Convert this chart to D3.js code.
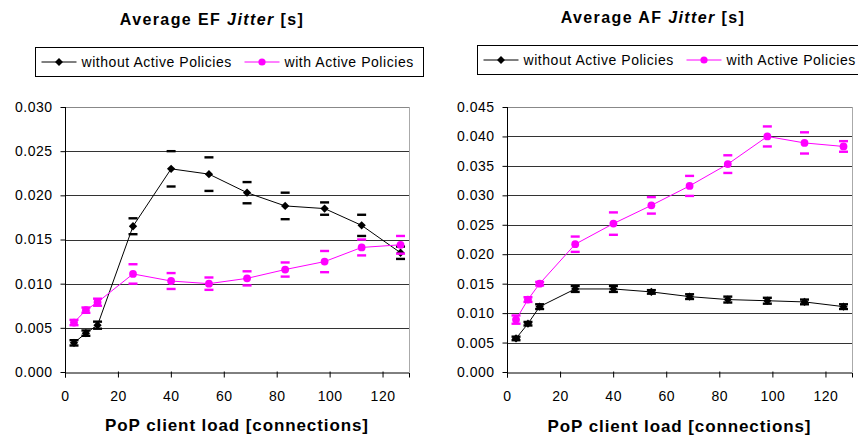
<!DOCTYPE html>
<html>
<head>
<meta charset="utf-8">
<script src="https://cdn.jsdelivr.net/npm/d3@7"></script>
<style>
  body { margin: 0; background: #fff; }
  svg { font-family: "Liberation Sans", Arial, sans-serif; }
</style>
</head>
<body>
<svg id="chart" width="858" height="437"></svg>
<script>
// PoP client load (connections) for each measurement
const loadX = [3.4, 7.9, 12.3, 25.7, 40.1, 54.4, 68.8, 83.2, 98.1, 112.1, 126.8];

// EF jitter [s]
const efWithout = [0.0033, 0.0044, 0.0053, 0.0165, 0.0230, 0.0224, 0.0203, 0.0188, 0.0185, 0.0166, 0.0135];
const efWithoutErr = [0.0003, 0.0003, 0.0004, 0.0009, 0.0020, 0.0019, 0.0012, 0.0015, 0.0007, 0.0012, 0.0007];
const efWith = [0.0056, 0.0070, 0.0079, 0.0111, 0.0103, 0.0100, 0.0106, 0.0116, 0.0125, 0.0141, 0.0144];
const efWithErr = [0.0003, 0.0003, 0.0004, 0.0011, 0.0009, 0.0007, 0.0008, 0.0008, 0.0012, 0.0009, 0.0010];

// AF jitter [s]
const afWithout = [0.0057, 0.0082, 0.0111, 0.0141, 0.0141, 0.0136, 0.0128, 0.0123, 0.0121, 0.0119, 0.0111];
const afWithoutErr = [0.0003, 0.0003, 0.0004, 0.0005, 0.0005, 0.0003, 0.0004, 0.0005, 0.0005, 0.0004, 0.0004];
const afWith = [0.0089, 0.0123, 0.0150, 0.0217, 0.0252, 0.0283, 0.0316, 0.0353, 0.0400, 0.0389, 0.0383];
const afWithErr = [0.0007, 0.0004, 0.0003, 0.0013, 0.0019, 0.0014, 0.0017, 0.0015, 0.0017, 0.0018, 0.0009];

const xTicks = [0, 20, 40, 60, 80, 100, 120];
const efTicks = [0, 0.005, 0.010, 0.015, 0.020, 0.025, 0.030];
const afTicks = [0, 0.005, 0.010, 0.015, 0.020, 0.025, 0.030, 0.035, 0.040, 0.045];

const seriesNames = ['without Active Policies', 'with Active Policies'];
const seriesColors = ['#000000', '#ff00ff'];

const svg = d3.select('#chart');

function drawPanel(cfg) {
    const g = svg.append('g');
    const x = d3.scaleLinear().domain([0, 130]).range([cfg.left, cfg.right]);
    const y = d3.scaleLinear().domain([0, cfg.yMax]).range([cfg.bottom, cfg.top]);

    // title
    const title = g.append('text')
        .attr('x', cfg.titleX).attr('y', cfg.titleY)
        .attr('text-anchor', 'middle')
        .style('font-size', '16px').style('font-weight', 'bold')
        .style('letter-spacing', '1.4px');
    title.append('tspan').text(cfg.titleText + ' ');
    title.append('tspan').style('font-style', 'italic').text('Jitter');
    title.append('tspan').text(' [s]');

    // legend
    const lg = g.append('g');
    lg.append('rect')
        .attr('x', cfg.legX).attr('y', cfg.legY)
        .attr('width', cfg.legW).attr('height', 29)
        .attr('fill', '#fff').attr('stroke', '#000').attr('stroke-width', 1);
    const legItems = [cfg.legX + 6, cfg.legX + 209];
    legItems.forEach((lx, i) => {
        const cy = cfg.legY + 14.5;
        lg.append('line')
            .attr('x1', lx).attr('x2', lx + 35)
            .attr('y1', cy).attr('y2', cy)
            .attr('stroke', seriesColors[i]).attr('stroke-width', 1);
        if (i === 0) {
            lg.append('path')
                .attr('d', d3.symbol(d3.symbolDiamond2, 40)())
                .attr('transform', `translate(${lx + 17.5},${cy})`)
                .attr('fill', seriesColors[i]);
        } else {
            lg.append('circle')
                .attr('cx', lx + 17.5).attr('cy', cy).attr('r', 3.6)
                .attr('fill', seriesColors[i]);
        }
        lg.append('text')
            .attr('x', lx + 40).attr('y', cy + 5)
            .style('font-size', '14px').style('letter-spacing', '0.55px')
            .text(seriesNames[i]);
    });

    // gridlines
    g.append('g').selectAll('line')
        .data(cfg.yTicks.filter(d => d > 0))
        .enter().append('line')
        .attr('x1', cfg.left).attr('x2', cfg.right)
        .attr('y1', d => Math.round(y(d)) + 0.5).attr('y2', d => Math.round(y(d)) + 0.5)
        .attr('stroke', d => d === cfg.yMax ? '#888' : '#333').attr('stroke-width', 1);

    // right border
    g.append('line')
        .attr('x1', cfg.right + 0.5).attr('x2', cfg.right + 0.5)
        .attr('y1', cfg.top).attr('y2', cfg.bottom)
        .attr('stroke', '#aaa');

    // axes
    const yAxis = g.append('g')
        .attr('transform', `translate(${Math.round(cfg.left) + 0.5},0)`)
        .call(d3.axisLeft(y).tickValues(cfg.yTicks).tickFormat(d3.format('.3f')).tickSize(5).tickPadding(8));
    const xAxis = g.append('g')
        .attr('transform', `translate(0,${Math.round(cfg.bottom) + 0.5})`)
        .call(d3.axisBottom(x).tickValues(xTicks).tickSize(5).tickPadding(14));
    xAxis.selectAll('.tick line').attr('y1', -1);
    [xAxis, yAxis].forEach(a => {
        a.select('.domain').attr('stroke', '#000');
        a.selectAll('.tick line').attr('stroke', '#000');
        a.selectAll('text')
            .style('font-size', '14px').style('letter-spacing', '0.5px')
            .style('font-family', '"Liberation Sans", Arial, sans-serif')
            .attr('fill', '#000');
    });
    yAxis.select('.domain').attr('d', `M0,${cfg.top}V${Math.round(cfg.bottom) + 0.5}`);

    // x label
    g.append('text')
        .attr('x', (cfg.left + cfg.right) / 2).attr('y', cfg.xLabelY)
        .attr('text-anchor', 'middle')
        .style('font-size', '17px').style('font-weight', 'bold')
        .style('letter-spacing', '0.9px')
        .text('PoP client load [connections]');

    // series
    cfg.series.forEach((s, i) => {
        const pts = loadX.map((lx, j) => ({ x: lx, v: s.values[j], e: s.err[j] }));
        const sg = g.append('g');
        sg.append('path')
            .datum(pts)
            .attr('fill', 'none')
            .attr('stroke', seriesColors[i]).attr('stroke-width', 1)
            .attr('d', d3.line().x(d => x(d.x)).y(d => y(d.v)));
        // error bar caps
        pts.forEach(d => {
            [d.v + d.e, d.v - d.e].forEach(ev => {
                sg.append('line')
                    .attr('x1', x(d.x) - 4.5).attr('x2', x(d.x) + 4.5)
                    .attr('y1', y(ev)).attr('y2', y(ev))
                    .attr('stroke', seriesColors[i]).attr('stroke-width', 2.4);
            });
            sg.append('line')
                .attr('x1', x(d.x)).attr('x2', x(d.x))
                .attr('y1', y(d.v + d.e)).attr('y2', y(d.v - d.e))
                .attr('stroke', seriesColors[i]).attr('stroke-width', 1)
                .attr('opacity', d.e < 0.0006 ? 1 : 0);
        });
        if (i === 0) {
            sg.selectAll('path.mk').data(pts).enter().append('path')
                .attr('class', 'mk')
                .attr('d', d3.symbol(d3.symbolDiamond2, 44)())
                .attr('transform', d => `translate(${x(d.x)},${y(d.v)})`)
                .attr('fill', seriesColors[i]);
        } else {
            sg.selectAll('circle').data(pts).enter().append('circle')
                .attr('cx', d => x(d.x)).attr('cy', d => y(d.v)).attr('r', 3.9)
                .attr('fill', seriesColors[i]);
        }
    });
}

drawPanel({
    left: 65, right: 409, top: 107, bottom: 372, yMax: 0.030, yTicks: efTicks,
    titleText: 'Average EF', titleX: 212, titleY: 25,
    legX: 35.5, legY: 47.5, legW: 388,
    xLabelY: 431,
    series: [
        { values: efWithout, err: efWithoutErr },
        { values: efWith, err: efWithErr }
    ]
});

drawPanel({
    left: 507, right: 852, top: 107, bottom: 372, yMax: 0.045, yTicks: afTicks,
    titleText: 'Average AF', titleX: 653, titleY: 23,
    legX: 477.5, legY: 45.5, legW: 400,
    xLabelY: 432,
    series: [
        { values: afWithout, err: afWithoutErr },
        { values: afWith, err: afWithErr }
    ]
});
</script>
</body>
</html>
